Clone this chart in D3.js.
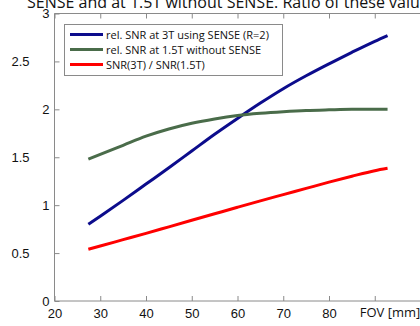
<!DOCTYPE html>
<html lang="en">
<head>
<meta charset="UTF-8" />
<title>SNR vs FOV</title>
<script src="https://d3js.org/d3.v7.min.js"></script>
<style>
  body { margin: 0; background: #fff; }
  svg { display: block; font-family: "Open Sans", sans-serif; }
  .tick text { fill: #111; font-size: 13px; }
  .domain, .tick line { stroke: #8a8a8a; }
</style>
</head>
<body>
<div id="chart"></div>
<script>
// values
const fov = [27.4, 30, 35, 40, 45, 50, 55, 60, 65, 70, 75, 80, 85, 90, 92.8];
const snr3T = [0.80, 0.885, 1.05, 1.22, 1.39, 1.565, 1.74, 1.905, 2.065, 2.215, 2.35, 2.475, 2.595, 2.71, 2.77];
const snr15T = [1.48, 1.53, 1.625, 1.72, 1.795, 1.855, 1.90, 1.935, 1.958, 1.975, 1.988, 1.995, 2.0, 2.0, 2.0];
const ratio = [0.54, 0.574, 0.64, 0.706, 0.774, 0.842, 0.91, 0.978, 1.045, 1.11, 1.175, 1.24, 1.302, 1.36, 1.385];

const seriesNames = ["rel. SNR at 3T using SENSE (R=2)", "rel. SNR at 1.5T without SENSE", "SNR(3T) / SNR(1.5T)"];
const seriesColors = ["#0c0c8c", "#4a6c4a", "#ff0000"];
const xTicks = [20, 30, 40, 50, 60, 70, 80, 90];
const yTicks = [0, 0.5, 1, 1.5, 2, 2.5, 3];
const titleText = "SENSE and at 1.5T without SENSE. Ratio of these values";
const xLabel = "FOV [mm]";

const W = 420, H = 326;
const margin = { top: 13.5, left: 54.5, bottom: 25 };

const svg = d3.select("#chart").append("svg")
  .attr("width", W).attr("height", H);

const x = d3.scaleLinear().domain([20, 100]).range([margin.left, 420.5]);
const y = d3.scaleLinear().domain([0, 3]).range([H - margin.bottom, margin.top]);

// title (only its lower part is inside the picture)
svg.append("text")
  .attr("x", 27).attr("y", 7.5)
  .attr("font-size", 16)
  .attr("fill", "#111")
  .text(titleText);

// axes, MATLAB style with inward ticks
svg.append("g")
  .attr("transform", `translate(0,${y(0)})`)
  .call(d3.axisBottom(x).tickValues(xTicks).tickSize(-5).tickPadding(8)
    .tickFormat(d => d === 90 ? "" : d))
  .call(g => g.select(".domain").attr("d", `M${x(20)},0H${x(100)}`));

svg.append("g")
  .attr("transform", `translate(0,${y(3)})`)
  .call(d3.axisTop(x).tickValues(xTicks).tickSize(-5).tickFormat(""))
  .call(g => g.select(".domain").attr("d", `M${x(20)},0H${x(100)}`));

const yAxis = svg.append("g")
  .attr("transform", `translate(${x(20)},0)`)
  .call(d3.axisLeft(y).tickValues(yTicks).tickSize(-5).tickPadding(5)
    .tickFormat(d => String(d)))
  .call(g => g.select(".domain").attr("d", `M0,${y(0)}V${y(3)}`));

// decimal labels sit further left in the original
yAxis.selectAll(".tick text")
  .attr("x", d => Number.isInteger(d) ? -5 : -25);

svg.append("text")
  .attr("x", x(90) - 15).attr("y", y(0) + 16)
  .attr("font-size", 13).attr("fill", "#111")
  .text(xLabel);

// lines
const line = d3.line().curve(d3.curveMonotoneX)
  .x(d => x(d[0])).y(d => y(d[1]));
[snr3T, snr15T, ratio].forEach((vals, i) => {
  svg.append("path")
    .datum(fov.map((f, j) => [f, vals[j]]))
    .attr("d", line)
    .attr("fill", "none")
    .attr("stroke", seriesColors[i])
    .attr("stroke-width", 3)
    .attr("stroke-linejoin", "round");
});

// legend
const legend = svg.append("g");
legend.append("rect")
  .attr("x", 64.5).attr("y", 24.5)
  .attr("width", 218).attr("height", 51)
  .attr("fill", "#fff").attr("stroke", "#8a8a8a");

seriesNames.forEach((name, i) => {
  const ly = 34.5 + i * 15;
  legend.append("line")
    .attr("x1", 70).attr("x2", 103)
    .attr("y1", ly).attr("y2", ly)
    .attr("stroke", seriesColors[i]).attr("stroke-width", 3);
  legend.append("text")
    .attr("x", 106).attr("y", ly + 4)
    .attr("font-size", 11).attr("fill", "#111")
    .text(name);
});
</script>
</body>
</html>
